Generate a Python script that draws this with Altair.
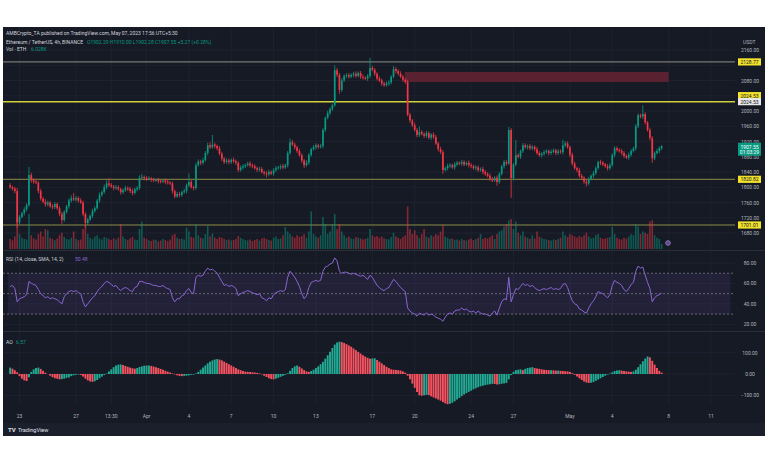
import altair as alt
import pandas as pd

# ---------------- data ----------------
FIRST_OPEN = 1805.0
CLOSE = [
    1800, 1796, 1790, 1708, 1722, 1732, 1742, 1753, 1832, 1818,
    1814, 1812, 1790, 1770, 1762, 1755, 1760, 1750, 1748, 1756,
    1745, 1730, 1714, 1735, 1750, 1765, 1771, 1768, 1772, 1765,
    1760, 1730, 1706, 1715, 1725, 1738, 1745, 1765, 1780, 1787,
    1800, 1810, 1806, 1802, 1798, 1800, 1795, 1787, 1792, 1798,
    1796, 1790, 1785, 1795, 1798, 1825, 1827, 1824, 1822, 1823,
    1820, 1818, 1819, 1816, 1815, 1818, 1814, 1812, 1810, 1790,
    1776, 1782, 1780, 1787, 1790, 1805, 1814, 1800, 1798, 1858,
    1868, 1864, 1871, 1890, 1910, 1905, 1912, 1908, 1902, 1888,
    1875, 1866, 1870, 1866, 1872, 1868, 1864, 1845, 1852, 1855,
    1858, 1862, 1858, 1855, 1850, 1846, 1848, 1840, 1837, 1834,
    1840, 1836, 1845, 1850, 1852, 1855, 1852, 1858, 1890, 1918,
    1912, 1905, 1895, 1884, 1870, 1858, 1865, 1885, 1900, 1905,
    1910, 1906, 1908, 1950, 1982, 1995, 2005, 2015, 2107, 2095,
    2055, 2080, 2092, 2094, 2090, 2095, 2098, 2092, 2100, 2090,
    2087, 2085, 2092, 2113, 2108, 2098, 2085, 2080, 2072, 2068,
    2072, 2075, 2090, 2110, 2105, 2098, 2090, 2082, 2076, 1990,
    1975, 1963, 1950, 1937, 1945, 1940, 1935, 1942, 1930, 1938,
    1932, 1915, 1900, 1892, 1845, 1850, 1856, 1858, 1852, 1860,
    1864, 1862, 1866, 1860, 1864, 1858, 1855, 1850, 1852, 1845,
    1848, 1840, 1835, 1830, 1822, 1818, 1825, 1814, 1835, 1855,
    1866, 1862, 1950, 1824, 1860, 1884, 1880, 1895, 1910, 1905,
    1908, 1902, 1906, 1900, 1890, 1884, 1888, 1892, 1895, 1890,
    1893, 1897, 1890, 1894, 1892, 1910, 1915, 1905, 1885, 1862,
    1850, 1845, 1830, 1825, 1815, 1810, 1822, 1830, 1837, 1850,
    1866, 1864, 1860, 1855, 1850, 1858, 1885, 1902, 1898, 1895,
    1890, 1882, 1878, 1885, 1895, 1902, 1960, 1989, 1985, 1992,
    1970, 1950, 1929, 1876, 1890, 1895, 1902.29, 1907.55,
]
UPPER_WICK = [
    6, 4, 5, 8, 5, 4, 6, 5, 21, 6,
    5, 8, 4, 6, 5, 7, 5, 4, 6, 5,
    4, 5, 6, 5, 4, 6, 8, 14, 5, 4,
    6, 5, 4, 5, 4, 6, 5, 4, 6, 5,
    7, 8, 14, 5, 4, 6, 5, 4, 5, 6,
    4, 5, 6, 4, 5, 6, 8, 4, 5, 6,
    4, 5, 4, 6, 5, 4, 5, 6, 4, 5,
    4, 6, 5, 4, 6, 5, 22, 5, 4, 6,
    5, 4, 6, 5, 7, 8, 25, 5, 4, 6,
    5, 4, 6, 5, 4, 6, 5, 4, 5, 6,
    4, 5, 6, 4, 5, 4, 6, 5, 4, 5,
    6, 4, 5, 6, 4, 5, 6, 4, 5, 10,
    6, 5, 4, 6, 5, 4, 6, 5, 4, 6,
    5, 4, 6, 5, 4, 6, 5, 4, 13, 6,
    5, 6, 4, 5, 6, 4, 5, 6, 4, 5,
    6, 4, 5, 26, 6, 5, 4, 6, 5, 4,
    6, 5, 4, 8, 5, 4, 6, 5, 4, 6,
    5, 4, 6, 5, 14, 5, 4, 6, 5, 4,
    6, 5, 4, 6, 5, 4, 6, 5, 4, 6,
    5, 4, 6, 5, 4, 6, 5, 4, 6, 5,
    4, 6, 5, 4, 6, 5, 4, 6, 5, 4,
    6, 5, 8, 5, 4, 40, 5, 4, 6, 5,
    4, 6, 5, 4, 6, 5, 4, 6, 5, 4,
    6, 5, 4, 6, 5, 15, 6, 5, 4, 6,
    5, 4, 6, 5, 4, 6, 5, 4, 6, 5,
    4, 6, 5, 4, 6, 5, 4, 6, 5, 4,
    6, 5, 4, 6, 5, 4, 6, 5, 4, 23,
    5, 4, 6, 5, 4, 6, 5, 3,
]
LOWER_WICK = [
    4, 5, 6, 15, 5, 4, 6, 5, 4, 6,
    5, 4, 6, 5, 4, 6, 5, 4, 6, 5,
    4, 6, 10, 5, 4, 6, 5, 4, 6, 5,
    4, 6, 12, 5, 4, 6, 5, 4, 6, 5,
    4, 6, 5, 4, 6, 5, 4, 6, 5, 4,
    6, 5, 6, 4, 6, 5, 4, 6, 5, 4,
    6, 5, 4, 6, 5, 4, 6, 5, 4, 6,
    5, 4, 6, 5, 4, 6, 5, 4, 6, 5,
    4, 6, 5, 4, 6, 5, 4, 6, 5, 4,
    6, 5, 4, 6, 5, 4, 6, 5, 4, 6,
    5, 4, 6, 5, 4, 6, 5, 4, 6, 8,
    5, 4, 6, 5, 4, 6, 5, 4, 6, 5,
    4, 6, 5, 4, 6, 8, 4, 6, 5, 4,
    6, 5, 4, 6, 5, 4, 6, 5, 4, 6,
    10, 5, 4, 6, 5, 4, 6, 5, 4, 6,
    5, 4, 6, 5, 4, 6, 5, 4, 6, 5,
    4, 6, 5, 4, 6, 5, 4, 6, 5, 4,
    6, 5, 4, 6, 5, 4, 6, 5, 4, 6,
    5, 4, 6, 5, 10, 4, 6, 5, 4, 6,
    5, 4, 6, 5, 4, 6, 5, 4, 6, 5,
    4, 6, 5, 4, 6, 5, 4, 10, 5, 4,
    6, 5, 4, 52, 6, 5, 4, 6, 5, 4,
    6, 5, 4, 6, 5, 4, 6, 5, 4, 6,
    5, 4, 6, 5, 4, 6, 5, 4, 6, 5,
    4, 6, 5, 4, 6, 8, 5, 4, 6, 5,
    4, 6, 5, 4, 6, 5, 4, 6, 5, 4,
    6, 5, 4, 6, 5, 4, 6, 5, 4, 6,
    5, 4, 6, 12, 5, 4, 6, 5,
]
VOLUME_K = [
    40, 35, 50, 120, 60, 45, 40, 38, 140, 55,
    42, 38, 60, 70, 50, 80, 75, 45, 40, 35,
    42, 55, 65, 48, 40, 38, 45, 70, 40, 35,
    38, 80, 95, 60, 45, 40, 50, 55, 42, 38,
    48, 45, 40, 36, 42, 38, 45, 100, 50, 40,
    35, 42, 48, 38, 36, 80, 110, 45, 40, 35,
    32, 38, 36, 30, 34, 40, 36, 32, 38, 55,
    60, 45, 40, 42, 38, 85, 70, 48, 45, 100,
    55, 45, 42, 60, 92, 50, 62, 45, 40, 48,
    45, 40, 36, 38, 34, 36, 40, 52, 45, 40,
    36, 34, 38, 32, 36, 40, 34, 42, 45, 40,
    36, 34, 45, 50, 40, 42, 55, 88, 70, 60,
    50, 45, 55, 48, 52, 60, 45, 70, 150, 60,
    50, 45, 55, 128, 100, 60, 70, 100, 140, 80,
    100, 70, 55, 45, 50, 42, 40, 48, 45, 42,
    38, 40, 45, 80, 55, 48, 52, 45, 50, 42,
    40, 38, 48, 65, 50, 45, 40, 48, 55, 170,
    80, 60, 75, 55, 45, 60, 80, 50, 45, 55,
    50, 60, 55, 70, 96, 50, 45, 40, 42, 36,
    38, 34, 40, 36, 34, 38, 42, 36, 40, 45,
    60, 40, 45, 42, 48, 55, 40, 60, 70, 75,
    90, 100, 115, 120, 80, 110, 65, 55, 70, 50,
    45, 40, 55, 42, 70, 50, 45, 40, 38, 36,
    34, 38, 36, 40, 45, 70, 55, 48, 60, 55,
    50, 45, 52, 48, 55, 65, 50, 42, 45, 55,
    60, 45, 40, 42, 45, 48, 88, 60, 45, 40,
    38, 45, 42, 50, 60, 55, 100, 90, 60, 70,
    65, 60, 110, 115, 55, 45, 40, 20,
]
RSI = [
    57, 58, 55, 42, 45, 46, 47, 49, 62, 60,
    59, 58, 54, 50, 48, 46, 47, 45, 46, 45,
    44, 42, 40, 47, 50, 52, 53, 52, 53, 51,
    50, 42, 37, 40, 43, 46, 48, 52, 55, 57,
    60, 62, 61, 59, 57, 58, 55, 53, 55, 56,
    55, 53, 52, 56, 57, 62, 62, 61, 60, 60,
    59, 58, 58, 57, 57, 58, 56, 55, 54, 46,
    42, 45, 45, 48, 49, 53, 55, 51, 50, 66,
    68, 67, 68, 72, 75, 73, 74, 72, 70, 66,
    62, 58, 59, 57, 58, 57, 55, 48, 50, 51,
    52, 53, 52, 51, 50, 49, 50, 46, 45, 43,
    46, 45, 49, 51, 52, 53, 52, 54, 66, 72,
    69, 66, 62, 57, 50, 45, 48, 56, 61, 62,
    63, 62, 63, 72, 76, 77, 79, 80, 85, 82,
    72, 70, 71, 71, 70, 69, 70, 69, 68, 67,
    68, 66, 64, 68, 66, 62, 58, 56, 54, 53,
    55, 56, 60, 64, 62, 59, 56, 54, 52, 36,
    33, 31, 30, 28, 31, 30, 29, 31, 29, 30,
    29, 27, 26, 25, 23, 27, 30, 31, 30, 33,
    34, 34, 36, 34, 35, 33, 32, 33, 31, 33,
    31, 30, 30, 29, 28, 31, 33, 29, 36, 42,
    45, 44, 66, 42, 49, 55, 54, 57, 60, 58,
    59, 57, 58, 56, 54, 53, 54, 55, 54, 55,
    56, 54, 55, 54, 55, 59, 60, 56, 49, 43,
    40, 39, 35, 34, 32, 31, 36, 40, 43, 47,
    52, 51, 50, 48, 46, 49, 58, 63, 61, 60,
    58, 54, 52, 55, 59, 61, 72, 77, 75, 76,
    68, 61, 55, 42, 46, 48, 49, 50.48,
]
AO = [
    30, 25, 18, 8, -10, -22, -30, -33, -15, 10,
    22, 28, 30, 24, 15, 6, 0, -8, -15, -20,
    -22, -25, -24, -22, -18, -16, -10, -6, -3, -2,
    -5, -12, -22, -30, -35, -37, -34, -28, -20, -12,
    -5, 2, 12, 22, 32, 40, 44, 45, 42, 38,
    34, 30, 27, 25, 28, 33, 36, 39, 40, 40,
    38, 35, 32, 28, 24, 20, 15, 11, 7, 3,
    -2, -6, -9, -10, -9, -8, -6, -4, -3, 2,
    10, 20, 30, 40, 50, 58, 64, 68, 70, 68,
    64, 58, 52, 46, 40, 34, 28, 22, 18, 14,
    11, 10, 9, 8, 7, 5, 3, -2, -8, -14,
    -20, -24, -25, -22, -18, -13, -8, -4, 3, 15,
    28, 36, 40, 34, 26, 18, 12, 10, 14, 20,
    28, 36, 46, 58, 72, 88, 105, 122, 138, 148,
    152, 150, 146, 140, 134, 128, 120, 112, 104, 96,
    88, 82, 76, 72, 73, 74, 66, 58, 50, 42,
    34, 28, 22, 20, 19, 18, 16, 12, 6, -8,
    -25, -45, -65, -85, -100, -102, -100, -98, -99, -105,
    -110, -115, -120, -125, -132, -138, -142, -140, -135, -128,
    -120, -112, -104, -96, -90, -84, -78, -72, -67, -62,
    -58, -55, -52, -50, -48, -46, -47, -49, -48, -46,
    -44, -42, -25, -5, 10, 18, 20, 22, 18, 24,
    28, 30, 32, 28, 26, 24, 22, 20, 19, 18,
    18, 17, 16, 16, 15, 14, 13, 12, 10, 4,
    -4, -12, -20, -28, -35, -40, -42, -41, -38, -32,
    -26, -20, -14, -8, -3, 2, 8, 14, 16, 18,
    16, 14, 12, 11, 10, 12, 20, 32, 46, 60,
    72, 82, 78, 62, 44, 28, 15, 6.57,
]

PRICE_TICKS = [2160, 2080, 2000, 1960, 1920, 1880, 1840, 1800, 1760, 1720, 1680]
PRICE_GRID = [1680, 1720, 1760, 1800, 1840, 1880, 1920, 1960, 2000, 2040, 2080, 2120, 2160]
RSI_TICKS = [80, 60, 40, 20]
AO_TICKS = [100, 0, -100]
DATE_DAYS = [0, 4, 6.5, 9, 12, 15, 18, 21, 25, 28, 32, 35, 39, 42, 46, 49]
DATE_LABELS = ["23", "27", "13:30", "Apr", "4", "7", "10", "13", "17", "20",
               "24", "27", "May", "4", "8", "11"]
LEVEL_BRIGHT = [2024.53]
LEVEL_GREY = [2128.77]
LEVEL_OLIVE = [1820.82, 1701.01]
ZONE_DAYS = [27.3, 46.0]
ZONE_PRICES = [2076, 2102]
LAST_PRICE = 1907.55

# ---------------- derived frame ----------------
n = len(CLOSE)
opens = [FIRST_OPEN] + CLOSE[:-1]
df = pd.DataFrame({"i": range(n), "open": opens, "close": CLOSE,
                   "uw": UPPER_WICK[:n], "lw": LOWER_WICK[:n],
                   "vol": VOLUME_K[:n], "rsi": RSI[:n], "ao": AO[:n]})
df["day"] = (df["i"] - 4) / 6.0
bh = df[["open", "close"]].max(axis=1)
bl = df[["open", "close"]].min(axis=1)
df["high"] = bh + df["uw"]
df["low"] = bl - df["lw"]
mid = (bh + bl) / 2
flat = (bh - bl) < 2.6
df["bh"] = bh.where(~flat, mid + 1.3)
df["bl"] = bl.where(~flat, mid - 1.3)
df["up"] = df["close"] >= df["open"]
df["ao_up"] = df["ao"].diff().fillna(1) >= 0

# ---------------- styling ----------------
BG = "#161a25"
GREEN = "#089981"
RED = "#f23645"
AO_GREEN = "#22ab94"
AO_RED = "#f7525f"
TXT = "#b2b5be"
GRID = "#1e2230"
FONT = "Roboto"

X_END_DAY = (735 - 14.7) / 14.3
XS = alt.Scale(domain=[-11.7 / 14.3, (762 - 11.7) / 14.3], nice=False, zero=False)
PS = alt.Scale(domain=[1680, 2160], range=[206, 23], nice=False, zero=False)
VS = alt.Scale(domain=[0, 200], range=[222, 172], nice=False, zero=False)
RS = alt.Scale(domain=[20, 80], range=[297.3, 236], nice=False, zero=False)
AS = alt.Scale(domain=[-100, 100], range=[368.3, 325.7], nice=False, zero=False)

def X(f="day"):
    return alt.X(f"{f}:Q", scale=XS, axis=None)

def Y(f, s):
    return alt.Y(f"{f}:Q", scale=s, axis=None)

def txt(t, x, y, color=TXT, size=5, align="left", weight="normal"):
    return alt.Chart(alt.Data(values=[{"t": t}])).mark_text(
        align=align, baseline="middle", font=FONT, fontSize=size,
        color=color, fontWeight=weight).encode(
        text="t:N", x=alt.value(x), y=alt.value(y))

one = alt.Data(values=[{"a": 0}])
layers = []

# bottom bar
layers.append(alt.Chart(one).mark_rect(color="#1b1f2b").encode(
    x=alt.value(0), x2=alt.value(762), y=alt.value(396), y2=alt.value(409)))

# grids
days_df = pd.DataFrame({"day": DATE_DAYS, "lab": DATE_LABELS})
layers.append(alt.Chart(days_df).mark_rule(color=GRID, strokeWidth=1).encode(
    x=X(), y=alt.value(0), y2=alt.value(378)))
pg = pd.DataFrame({"p": PRICE_GRID})
layers.append(alt.Chart(pg).mark_rule(color=GRID, strokeWidth=1).encode(
    y=Y("p", PS), x=alt.value(0), x2=alt.value(732)))
layers.append(alt.Chart(pd.DataFrame({"r": RSI_TICKS})).mark_rule(color=GRID).encode(
    y=Y("r", RS), x=alt.value(0), x2=alt.value(732)))
layers.append(alt.Chart(pd.DataFrame({"a": AO_TICKS})).mark_rule(color=GRID).encode(
    y=Y("a", AS), x=alt.value(0), x2=alt.value(732)))

# pane separators
for yy in (223.5, 304.5):
    layers.append(alt.Chart(one).mark_rule(color="#2a2e39", strokeWidth=1).encode(
        x=alt.value(0), x2=alt.value(762), y=alt.value(yy)))

# zone
zone = pd.DataFrame({"d0": [ZONE_DAYS[0]], "d1": [ZONE_DAYS[1]],
                     "p0": [ZONE_PRICES[0]], "p1": [ZONE_PRICES[1]]})
layers.append(alt.Chart(zone).mark_rect(color="#5e2230", opacity=0.95).encode(
    x=X("d0"), x2="d1:Q", y=Y("p0", PS), y2="p1:Q"))

# level lines
layers.append(alt.Chart(pd.DataFrame({"p": LEVEL_GREY})).mark_rule(
    color="#8e8f86", strokeWidth=1).encode(y=Y("p", PS), x=alt.value(0), x2=alt.value(732)))
layers.append(alt.Chart(pd.DataFrame({"p": LEVEL_BRIGHT})).mark_rule(
    color="#cfd03a", strokeWidth=1.5).encode(y=Y("p", PS), x=alt.value(0), x2=alt.value(732)))
layers.append(alt.Chart(pd.DataFrame({"p": LEVEL_OLIVE})).mark_rule(
    color="#8c8c46", strokeWidth=1).encode(y=Y("p", PS), x=alt.value(0), x2=alt.value(732)))

# volume
layers.append(alt.Chart(df).mark_bar(size=1.6, opacity=0.5).encode(
    x=X(), y=Y("vol", VS),
    color=alt.condition("datum.up", alt.value(GREEN), alt.value(RED))))

# candles
layers.append(alt.Chart(df).mark_rule(strokeWidth=0.8).encode(
    x=X(), y=Y("low", PS), y2="high:Q",
    color=alt.condition("datum.up", alt.value(GREEN), alt.value(RED))))
layers.append(alt.Chart(df).mark_bar(size=1.7).encode(
    x=X(), y=Y("bl", PS), y2="bh:Q",
    color=alt.condition("datum.up", alt.value(GREEN), alt.value(RED))))

# RSI pane
band = pd.DataFrame({"d0": [-11.7 / 14.3], "d1": [X_END_DAY], "r0": [30], "r1": [70]})
layers.append(alt.Chart(band).mark_rect(color="#7e57c2", opacity=0.12).encode(
    x=X("d0"), x2="d1:Q", y=Y("r0", RS), y2="r1:Q"))
layers.append(alt.Chart(pd.DataFrame({"r": [70, 50, 30]})).mark_rule(
    color="#787b86", strokeDash=[2, 2], strokeWidth=0.8).encode(
    y=Y("r", RS), x=alt.value(0), x2=alt.value(732)))
layers.append(alt.Chart(df).mark_line(color="#8a66d1", strokeWidth=1).encode(
    x=X(), y=Y("rsi", RS)))

# AO pane
layers.append(alt.Chart(df).mark_bar(size=1.9).encode(
    x=X(), y=Y("ao", AS),
    color=alt.condition("datum.ao_up", alt.value(AO_GREEN), alt.value(AO_RED))))

# right axis labels
layers.append(alt.Chart(pd.DataFrame({"p": PRICE_TICKS})).mark_text(
    font=FONT, fontSize=5, color=TXT, align="center", baseline="middle").encode(
    y=Y("p", PS), x=alt.value(747), text=alt.Text("p:Q", format=".2f")))
layers.append(alt.Chart(pd.DataFrame({"r": RSI_TICKS})).mark_text(
    font=FONT, fontSize=5, color=TXT, align="center", baseline="middle").encode(
    y=Y("r", RS), x=alt.value(747), text=alt.Text("r:Q", format=".2f")))
layers.append(alt.Chart(pd.DataFrame({"a": AO_TICKS})).mark_text(
    font=FONT, fontSize=5, color=TXT, align="center", baseline="middle").encode(
    y=Y("a", AS), x=alt.value(747), text=alt.Text("a:Q", format=".2f")))

# level label boxes
def box(vals, fill, tcolor, off=0.0, h=3.6):
    d = pd.DataFrame({"p": vals})
    r = alt.Chart(d).mark_rect(color=fill, yOffset=off - h, y2Offset=off + h).encode(
        y=Y("p", PS), y2="p:Q", x=alt.value(735), x2=alt.value(758))
    t = alt.Chart(d).mark_text(font=FONT, fontSize=5, color=tcolor, align="center",
                               baseline="middle", dy=off).encode(
        y=Y("p", PS), x=alt.value(746.5), text=alt.Text("p:Q", format=".2f"))
    return [r, t]

layers += box([2128.77, 1820.82, 1701.01], "#f2e22c", "#131722")
layers += box(LEVEL_BRIGHT, "#f2e22c", "#131722", off=-6.0)
layers += box(LEVEL_BRIGHT, "#e8e8e8", "#131722")
# last price box
lp = pd.DataFrame({"p": [LAST_PRICE]})
layers.append(alt.Chart(lp).mark_rect(color=GREEN, yOffset=-3.5, y2Offset=9.5).encode(
    y=Y("p", PS), y2="p:Q", x=alt.value(735), x2=alt.value(758)))
layers.append(alt.Chart(lp).mark_text(font=FONT, fontSize=5, color="white", align="center",
                                      baseline="middle", dy=0.5).encode(
    y=Y("p", PS), x=alt.value(746.5), text=alt.Text("p:Q", format=".2f")))
layers.append(alt.Chart(lp).mark_text(font=FONT, fontSize=5, color="white", align="center",
                                      baseline="middle", dy=6).encode(
    y=Y("p", PS), x=alt.value(746.5), text=alt.value("01:03:29")))

# date labels
layers.append(alt.Chart(days_df).mark_text(
    font=FONT, fontSize=5, color=TXT, align="center", baseline="middle").encode(
    x=X(), y=alt.value(389), text="lab:N"))

# header / pane titles
layers.append(txt("AMBCrypto_TA published on TradingView.com, May 07, 2023 17:56 UTC+5:30",
                  3, 5.5, color="#d1d4dc"))
layers.append(txt("Ethereum / TetherUS, 4h, BINANCE", 3, 14.5, color="#d1d4dc"))
layers.append(txt("O1902.29  H1910.00  L1902.28  C1907.55  +5.27 (+0.28%)", 84, 14.5, color=GREEN))
layers.append(txt("Vol · ETH", 3, 21.5, color="#d1d4dc"))
layers.append(txt("6.028K", 28, 21.5, color=GREEN))
layers.append(txt("USDT", 740, 15, color=TXT))
layers.append(txt("RSI (14, close, SMA, 14, 2)", 3, 232, color="#d1d4dc"))
layers.append(txt("50.48", 72, 232, color="#8a66d1"))
layers.append(txt("AO", 3, 315, color="#d1d4dc"))
layers.append(txt("6.57", 13, 315, color=GREEN))
layers.append(txt("TV", 5, 403, color="#e0e3eb", size=6, weight="bold"))
layers.append(txt("TradingView", 15, 403, color="#e0e3eb", size=5.5))

# small purple marker at volume end
layers.append(alt.Chart(one).mark_point(shape="circle", filled=True, color="#7e57c2",
                                        size=22, stroke="#c9b8ef", strokeWidth=0.8).encode(
    x=alt.value(665), y=alt.value(216)))

chart = alt.layer(*layers).resolve_scale(y="independent").properties(
    width=762, height=409,
    padding={"left": 3, "top": 27, "right": 3, "bottom": 27},
    autosize=alt.AutoSizeParams(type="none"),
    background="white",
).configure_view(fill=BG, stroke=None)

chart.save("out.html", embed_options={"renderer": "svg", "actions": False})
